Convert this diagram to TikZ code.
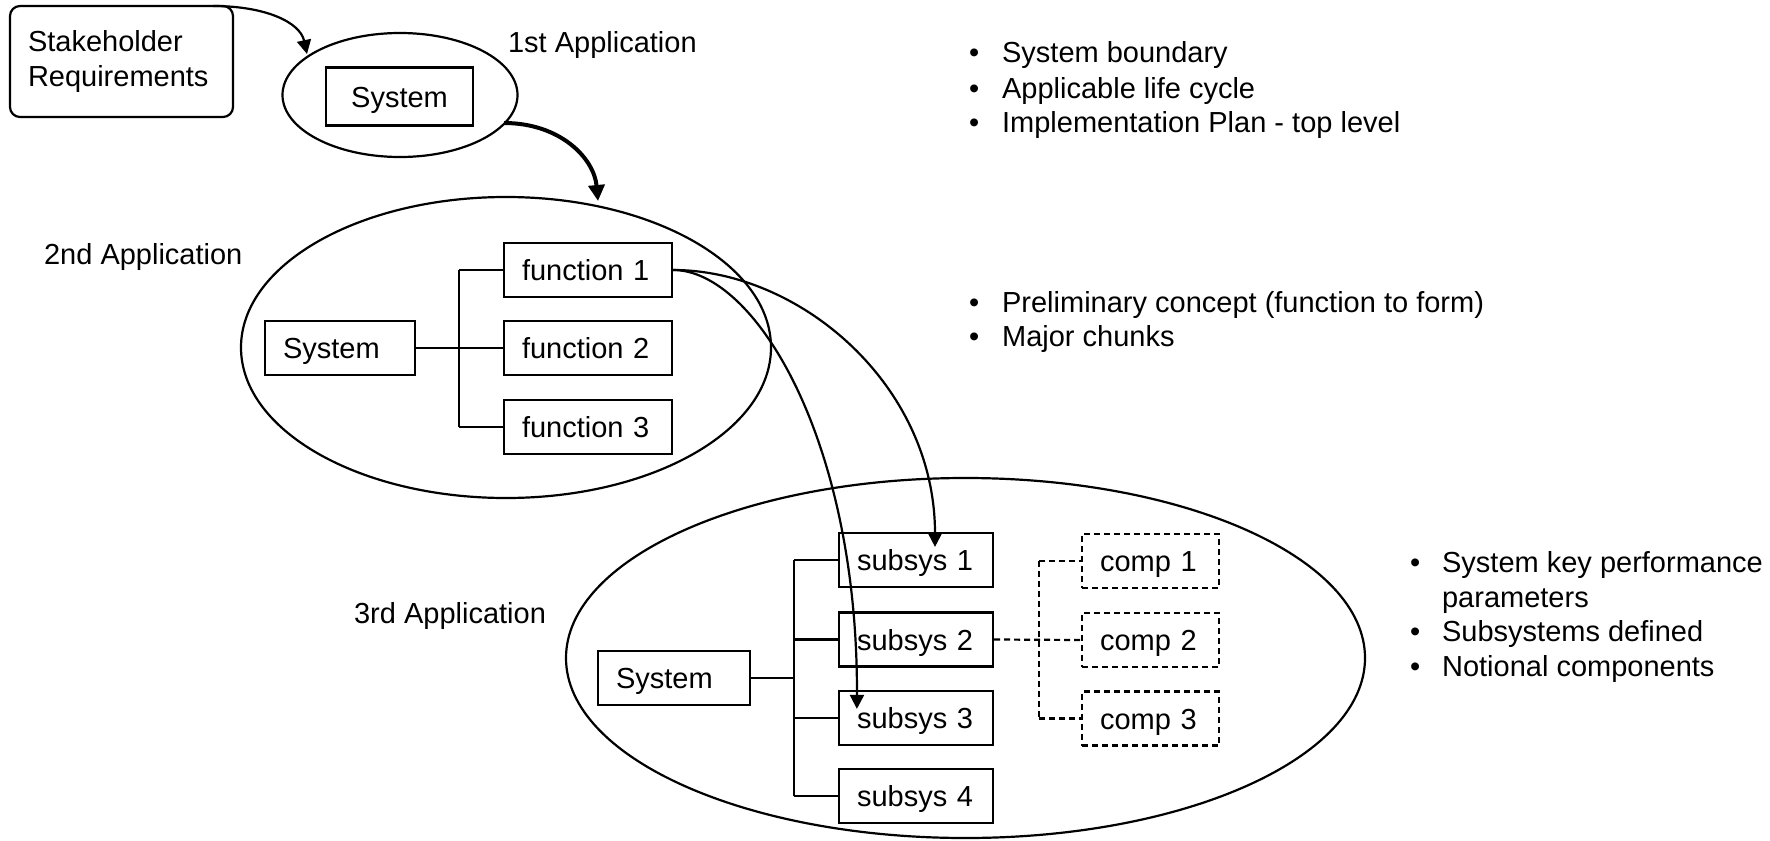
\documentclass[tikz,border=0pt]{standalone}
\usepackage{fontspec}
\setmainfont{Liberation Sans}
\usetikzlibrary{arrows.meta}

\begin{document}
\begin{tikzpicture}[x=0.5pt,y=-0.5pt,
  font=\fontsize{14.5}{17}\selectfont,
  line width=1.1pt,
  box/.style={draw, line width=1.1pt, rectangle, inner xsep=9pt, inner ysep=0pt,
    text height=10.5pt, text depth=0pt,
    minimum height=27pt, text width=#1, align=left},
  cbox/.style={draw, line width=1.1pt, rectangle, inner sep=0pt,
    text height=10.5pt, text depth=0pt,
    minimum height=29pt, minimum width=#1, align=center},
  dbox/.style={box=#1, dash pattern=on 3pt off 2pt},
  appscope/.style={draw, line width=1.1pt},
  lbl/.style={anchor=base west, inner sep=0pt},
  bul/.style={anchor=base west, inner sep=0pt},
  link/.style={line width=1.1pt},
  dlink/.style={line width=1.1pt, dash pattern=on 3pt off 2pt},
  flow/.style={line width=1.1pt, -{Triangle[length=7pt,width=7pt]}},
  bigflow/.style={line width=2pt, -{Triangle[length=8pt,width=8pt]}}
]
\useasboundingbox (0,0) rectangle (1770,840);

% application scopes
\draw[appscope] (400,95) ellipse [x radius=117.5, y radius=62];
\draw[appscope] (506,347.5) ellipse [x radius=265, y radius=150.5];
\draw[appscope] (965.5,658) ellipse [x radius=399.5, y radius=180];

% stakeholder input
\node[draw, line width=1.1pt, rounded corners=5pt, inner xsep=9pt, inner ysep=0pt,
  minimum height=55.5pt, text width=93.5pt, align=left,
  font=\fontsize{14.5}{17.5}\selectfont] (req) at (121.5,61.5)
  {Stakeholder\\Requirements};

% first application
\node[cbox=73.5pt] (sys1) at (399.5,96.5) {System};
\node[lbl] (lab1) at (507,53) {1st Application};

% second application
\node[box=57pt] (sys2) at (340,348) {System};
\node[box=66pt] (f1) at (588,270) {function 1};
\node[box=66pt] (f2) at (588,348) {function 2};
\node[box=66pt] (f3) at (588,427) {function 3};
\node[lbl] (lab2) at (43,264) {2nd Application};
\coordinate (t2a) at (459,270);
\coordinate (t2b) at (459,427);
\draw[link] (t2a) -- (t2b);
\draw[link] (sys2.east) -- (f2.west);
\draw[link] (t2a) -- (f1.west);
\draw[link] (t2b) -- (f3.west);

% third application
\node[box=58pt] (sys3) at (674,678) {System};
\node[box=59pt] (s1) at (916,560) {subsys 1};
\node[box=59pt] (s2) at (916,639.5) {subsys 2};
\node[box=59pt] (s3) at (916,718) {subsys 3};
\node[box=59pt] (s4) at (916,796) {subsys 4};
\node[lbl] (lab3) at (353,623) {3rd Application};
\coordinate (t3a) at (794,560);
\coordinate (t3d) at (794,639.5);
\coordinate (t3s) at (794,678);
\coordinate (t3b) at (794,718);
\coordinate (t3c) at (794,796);
\draw[link] (t3a) -- (t3c);
\draw[link] (sys3.east) -- (t3s);
\draw[link] (t3a) -- (s1.west);
\draw[link] (t3d) -- (s2.west);
\draw[link] (t3b) -- (s3.west);
\draw[link] (t3c) -- (s4.west);

% notional components
\node[dbox=50.5pt] (c1) at (1150.5,561) {comp 1};
\node[dbox=50.5pt] (c2) at (1150.5,640) {comp 2};
\node[dbox=50.5pt] (c3) at (1150.5,718.5) {comp 3};
\coordinate (tca) at (1039,561);
\coordinate (tcb) at (1039,718.5);
\draw[dlink] (tca) -- (tcb);
\draw[dlink] (s2.east) -- (c2.west);
\draw[dlink] (tca) -- (c1.west);
\draw[dlink] (tcb) -- (c3.west);

% flow between applications
\coordinate (reqout) at (213,6);
\coordinate (e1in) at (307,54);
\coordinate (e1out) at (504,123);
\coordinate (e2in) at (598,201);
\draw[flow] (reqout) .. controls (265,6) and (300,22) .. (e1in);
\draw[bigflow] (e1out) .. controls (560,123) and (594,158) .. (e2in);
\draw[flow] (f1.east) .. controls (800,270) and (935,385) .. ([xshift=9.5pt,yshift=-7.5pt]s1.north);
\draw[flow] (f1.east) .. controls (755,270) and (858,440) .. ([xshift=9.5pt,yshift=-9.5pt]s3.north west);

% notes
\node[bul] (n1a) at (968,63) {\textbullet};
\node[bul] (n1at) at (1001,63) {System boundary};
\node[bul] (n1b) at (968,98) {\textbullet};
\node[bul] (n1bt) at (1001,98) {Applicable life cycle};
\node[bul] (n1c) at (968,133) {\textbullet};
\node[bul] (n1ct) at (1001,133) {Implementation Plan - top level};

\node[bul] (n2a) at (968,312) {\textbullet};
\node[bul] (n2at) at (1001,312) {Preliminary concept (function to form)};
\node[bul] (n2b) at (968,346) {\textbullet};
\node[bul] (n2bt) at (1001,346) {Major chunks};

\node[bul] (n3a) at (1409,572) {\textbullet};
\node[bul] (n3at) at (1441,572) {System key performance};
\node[bul] (n3bt) at (1441,607) {parameters};
\node[bul] (n3c) at (1409,641) {\textbullet};
\node[bul] (n3ct) at (1441,641) {Subsystems defined};
\node[bul] (n3d) at (1409,676) {\textbullet};
\node[bul] (n3dt) at (1441,676) {Notional components};
\end{tikzpicture}
\end{document}
